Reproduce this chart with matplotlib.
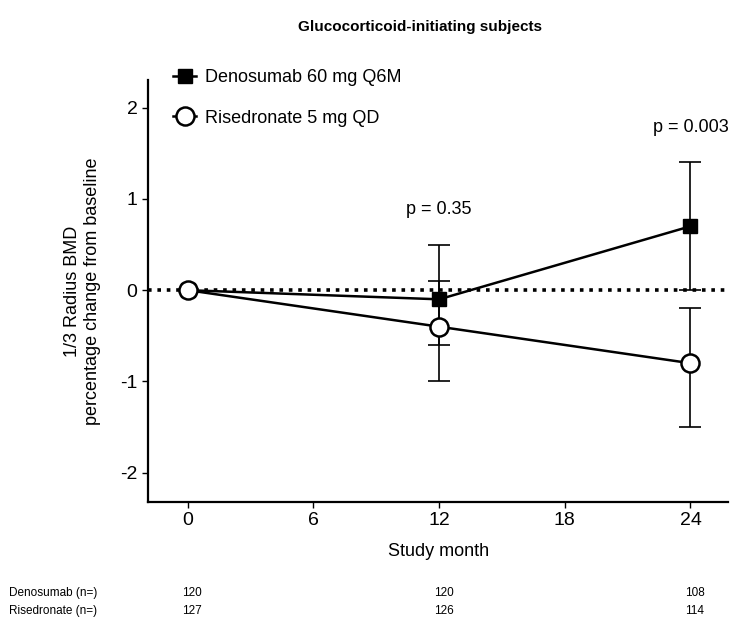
import matplotlib.pyplot as plt

plt.rcParams['font.family'] = ['Liberation Sans', 'DejaVu Sans']
plt.rcParams['axes.unicode_minus'] = False

# Study visits (months)
months = [0, 12, 24]

# Denosumab arm: mean % change and CI limits
deno_mean = [0.0, -0.1, 0.7]
deno_low = [0.0, -0.6, 0.0]
deno_high = [0.0, 0.5, 1.4]

# Risedronate arm: mean % change and CI limits
rise_mean = [0.0, -0.4, -0.8]
rise_low = [0.0, -1.0, -1.5]
rise_high = [0.0, 0.1, -0.2]

# Subjects at each visit
deno_n = [120, 120, 108]
rise_n = [127, 126, 114]

p_labels = ['p = 0.35', 'p = 0.003']
p_pos = [(12, 0.88), (24, 1.78)]

fig = plt.figure(figsize=(7.4, 6.22), dpi=100)
ax = fig.add_axes([0.2, 0.193, 0.784, 0.678])

ax.axhline(0, color='black', linestyle=(0, (1, 1.6)), linewidth=2.6, zorder=1)

deno_err = [[m - lo for m, lo in zip(deno_mean, deno_low)],
            [hi - m for m, hi in zip(deno_mean, deno_high)]]
rise_err = [[m - lo for m, lo in zip(rise_mean, rise_low)],
            [hi - m for m, hi in zip(rise_mean, rise_high)]]

ax.errorbar(months[1:], rise_mean[1:],
            yerr=[rise_err[0][1:], rise_err[1][1:]],
            fmt='none', ecolor='black', elinewidth=1.2, capsize=8,
            capthick=1.2, zorder=2)
ax.errorbar(months[1:], deno_mean[1:],
            yerr=[deno_err[0][1:], deno_err[1][1:]],
            fmt='none', ecolor='black', elinewidth=1.2, capsize=8,
            capthick=1.2, zorder=2)

ax.plot(months, deno_mean, color='black', linewidth=1.8, marker='s',
        markersize=10, markerfacecolor='black',
        label='Denosumab 60 mg Q6M', zorder=3)
ax.plot(months, rise_mean, color='black', linewidth=1.8, marker='o',
        markersize=13, markerfacecolor='white', markeredgewidth=1.8,
        label='Risedronate 5 mg QD', zorder=4)

for txt, (x, y) in zip(p_labels, p_pos):
    ax.text(x, y, txt, ha='center', va='center', fontsize=13)

ax.set_xlim(-1.9, 25.8)
ax.set_ylim(-2.32, 2.3)
ax.set_xticks([0, 6, 12, 18, 24])
ax.set_yticks([-2, -1, 0, 1, 2])
ax.spines['top'].set_visible(False)
ax.spines['right'].set_visible(False)
ax.spines['left'].set_linewidth(1.6)
ax.spines['bottom'].set_linewidth(1.6)
ax.tick_params(labelsize=14, length=4, width=1, direction='out')
ax.set_xlabel('Study month', fontsize=13, labelpad=10)
ax.set_ylabel('1/3 Radius BMD\npercentage change from baseline',
              fontsize=13, labelpad=14)

ax.legend(loc='upper left', bbox_to_anchor=(0.015, 1.065), frameon=False,
          fontsize=13, handlelength=1.3, handletextpad=0.5,
          labelspacing=1.3)

fig.text(0.567, 0.957, 'Glucocorticoid-initiating subjects',
         ha='center', va='center', fontsize=11, fontweight='bold')

# Numbers at risk below the axis
row_y = [0.046, 0.017]
for name, counts, y in zip(['Denosumab (n=)', 'Risedronate (n=)'],
                           [deno_n, rise_n], row_y):
    fig.text(0.012, y, name, fontsize=8.5, va='center')
    for m, c in zip(months, counts):
        xf = ax.transData.transform((m, 0))[0] / fig.bbox.width + 0.006
        fig.text(xf, y, str(c), fontsize=8.5, va='center', ha='center')

fig.savefig('out.png', dpi=100)
